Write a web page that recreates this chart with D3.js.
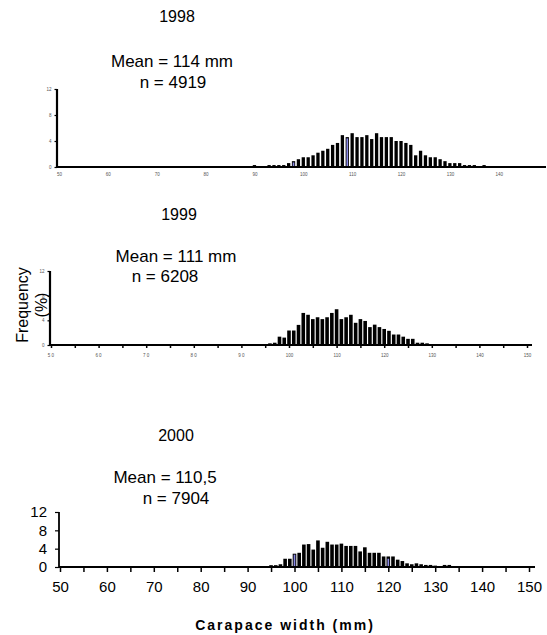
<!DOCTYPE html>
<html>
<head>
<meta charset="utf-8">
<script src="https://cdn.jsdelivr.net/npm/d3@7"></script>
<style>
  body { margin: 0; background: #fff; }
  svg { display: block; font-family: "Liberation Sans", Arial, sans-serif; }
</style>
</head>
<body>
<div id="chart"></div>
<script>
// titles
const years = ["1998", "1999", "2000"]
const meanLabels = ["Mean = 114 mm", "Mean = 111 mm", "Mean = 110,5"]
const countLabels = ["n = 4919", "n = 6208", "n = 7904"]

const yTicks = [0, 4, 8, 12]
const xLabelTicks = [50, 60, 70, 80, 90, 100, 110, 120, 130, 140, 150]
const xMinorTicks = [50, 55, 60, 65, 70, 75, 80, 85, 90, 95, 100, 105, 110, 115, 120, 125, 130, 135, 140, 145, 150]

// carapace width class (mm) and frequency (%)
const mm1998 = [90, 92, 93, 94, 95, 96, 97, 98, 99, 100, 101, 102, 103, 104, 105, 106, 107, 108, 109, 110,
  111, 112, 113, 114, 115, 116, 117, 118, 119, 120, 121, 122, 123, 124, 125, 126, 127, 128, 129, 130,
  131, 132, 133, 134, 135, 136, 137, 138, 140, 145]
const freq1998 = [0.3, 0.15, 0.3, 0.3, 0.3, 0.3, 0.6, 0.9, 1.2, 1.5, 1.5, 1.8, 2.2, 2.5, 2.8, 3.4, 3.7, 4.9, 4.6, 5.2,
  4.6, 4.6, 4.9, 4.3, 5.2, 4.6, 4.6, 4.6, 4.0, 4.0, 3.7, 3.4, 1.8, 2.5, 1.8, 1.5, 1.5, 1.2, 0.9, 0.6,
  0.6, 0.6, 0.3, 0.3, 0.3, 0.15, 0.3, 0.15, 0.15, 0.15]
const blueMm1998 = [98, 109]
const blueFreq1998 = [0.7, 4.4]

const mm1999 = [93, 94, 95, 96, 97, 98, 99, 100, 101, 102, 103, 104, 105, 106, 107, 108, 109, 110, 111, 112,
  113, 114, 115, 116, 117, 118, 119, 120, 121, 122, 123, 124, 125, 126, 127, 128, 129, 130, 131, 132]
const freq1999 = [0.1, 0.1, 0.15, 0.27, 0.37, 1.35, 1.2, 2.35, 2.35, 3.26, 5.2, 4.9, 4.2, 4.5, 4.2, 4.5, 5.2, 5.8, 4.2, 4.5,
  4.9, 3.6, 4.2, 3.9, 2.9, 3.3, 2.9, 2.6, 2.3, 1.7, 1.7, 1.35, 1.0, 1.0, 0.37, 0.37, 0.27, 0.15, 0.15, 0.15]
const blueMm1999 = []
const blueFreq1999 = []

const mm2000 = [95, 96, 97, 98, 99, 100, 101, 102, 103, 104, 105, 106, 107, 108, 109, 110, 111, 112, 113, 114,
  115, 116, 117, 118, 119, 120, 121, 122, 123, 124, 125, 126, 127, 128, 129, 130, 132, 133]
const freq2000 = [0.4, 0.4, 0.6, 1.8, 1.8, 2.9, 3.1, 4.9, 5.0, 3.8, 5.8, 4.2, 5.5, 4.9, 4.9, 5.1, 4.6, 4.6, 4.6, 3.4,
  4.3, 3.1, 3.1, 3.1, 2.3, 2.3, 2.3, 1.6, 1.3, 0.8, 0.6, 0.8, 0.6, 0.45, 0.45, 0.3, 0.45, 0.45]
const blueMm2000 = [100, 120]
const blueFreq2000 = [2.7, 1.8]

const width = 547
const height = 635

const panels = [
  { mm: mm1998, freq: freq1998, blueMm: blueMm1998, blueFreq: blueFreq1998,
    x0: 59, x1: 547.6, axisL: 57, axisR: 546, yTop: 89, yBase: 167,
    titleY: 22, meanY: 67, countY: 88, titleX: 177, meanX: 172, countX: 173,
    small: true, xTickLen: 0, labelVals: xLabelTicks.slice(0, 10), barW: 3.3, stroke: 2.2 },
  { mm: mm1999, freq: freq1999, blueMm: blueMm1999, blueFreq: blueFreq1999,
    x0: 51, x1: 527, axisL: 50, axisR: 532, yTop: 271, yBase: 345,
    titleY: 220, meanY: 262, countY: 282, titleX: 179, meanX: 176, countX: 165,
    small: true, xTickLen: 3, labelVals: xLabelTicks, barW: 3.6, stroke: 2.2 },
  { mm: mm2000, freq: freq2000, blueMm: blueMm2000, blueFreq: blueFreq2000,
    x0: 60, x1: 529, axisL: 59, axisR: 535, yTop: 512, yBase: 567,
    titleY: 441, meanY: 483, countY: 504, titleX: 176, meanX: 165, countX: 176,
    small: false, xTickLen: 5, labelVals: xLabelTicks, barW: 3.6, stroke: 1.8 }
]

const svg = d3.select("#chart").append("svg")
  .attr("width", width)
  .attr("height", height)

panels.forEach((p, i) => {
  const x = d3.scaleLinear().domain([50, 150]).range([p.x0, p.x1])
  const y = d3.scaleLinear().domain([0, 12]).range([p.yBase, p.yTop])
  const g = svg.append("g")

  // titles
  g.append("text").attr("x", p.titleX).attr("y", p.titleY)
    .attr("text-anchor", "middle").attr("font-size", 16).text(years[i])
  g.append("text").attr("x", p.meanX).attr("y", p.meanY)
    .attr("text-anchor", "middle").attr("font-size", 17).text(meanLabels[i])
  g.append("text").attr("x", p.countX).attr("y", p.countY)
    .attr("text-anchor", "middle").attr("font-size", 17).text(countLabels[i])

  // bars
  const bars = p.mm.map((m, k) => ({ m: m, v: p.freq[k] }))
  g.append("g").selectAll("rect")
    .data(bars)
    .enter().append("rect")
      .attr("x", d => x(d.m) - p.barW / 2)
      .attr("y", d => y(d.v))
      .attr("width", p.barW)
      .attr("height", d => y(0) - y(d.v))
      .attr("fill", "#000")

  const blue = p.blueMm.map((m, k) => ({ m: m, v: p.blueFreq[k] }))
  g.append("g").selectAll("rect")
    .data(blue)
    .enter().append("rect")
      .attr("x", d => x(d.m) - 0.8)
      .attr("y", d => y(d.v))
      .attr("width", 1.6)
      .attr("height", d => y(0) - y(d.v))
      .attr("fill", "#8a8ae6")

  // x axis
  const fs = p.small ? 4.5 : 15
  const xAxis = d3.axisBottom(x)
    .tickValues(p.xTickLen > 0 ? xMinorTicks : p.labelVals)
    .tickSize(p.xTickLen)
    .tickPadding(p.small ? 6 : 9)
    .tickFormat(d => p.labelVals.includes(d) && d % 10 === 0 ? d : "")
  const xg = g.append("g")
    .attr("transform", `translate(0,${p.yBase})`)
    .call(xAxis)
  xg.select(".domain").remove()
  xg.selectAll(".tick line").attr("stroke", "#000").attr("stroke-width", 1.5)
  xg.selectAll(".tick text")
    .attr("font-size", fs)
    .attr("font-family", "Liberation Sans, Arial, sans-serif")
    .attr("fill", p.small ? "#555" : "#000")
    .attr("letter-spacing", d => (i === 1 && d < 100) ? 1.2 : 0)

  // y axis
  const yAxis = d3.axisLeft(y)
    .tickValues(yTicks)
    .tickSize(p.small ? 2.5 : 4)
    .tickPadding(p.small ? 3 : 8)
  const yg = g.append("g")
    .attr("transform", `translate(${p.axisL},0)`)
    .call(yAxis)
  yg.select(".domain").remove()
  yg.selectAll(".tick line").attr("stroke", "#000").attr("stroke-width", 1.2)
  yg.selectAll(".tick text")
    .attr("font-size", fs)
    .attr("font-family", "Liberation Sans, Arial, sans-serif")
    .attr("fill", p.small ? "#555" : "#000")

  // axis lines
  g.append("line")
    .attr("x1", p.axisL).attr("x2", p.axisR)
    .attr("y1", p.yBase).attr("y2", p.yBase)
    .attr("stroke", "#000").attr("stroke-width", p.stroke)
  g.append("line")
    .attr("x1", p.axisL).attr("x2", p.axisL)
    .attr("y1", p.yTop).attr("y2", p.yBase)
    .attr("stroke", "#000").attr("stroke-width", p.stroke)
})

// y title (sits over the middle panel)
const yTitle = svg.append("text")
  .attr("transform", "translate(28,305) rotate(-90)")
  .attr("text-anchor", "middle")
  .attr("font-size", 16)
yTitle.append("tspan").attr("x", 0).attr("dy", 0).text("Frequency")
yTitle.append("tspan").attr("x", 0).attr("dy", 19).text("(%)")

// x title
svg.append("text")
  .attr("x", 285)
  .attr("y", 630)
  .attr("text-anchor", "middle")
  .attr("font-size", 14)
  .attr("font-weight", "bold")
  .attr("letter-spacing", 2)
  .text("Carapace width (mm)")
</script>
</body>
</html>
